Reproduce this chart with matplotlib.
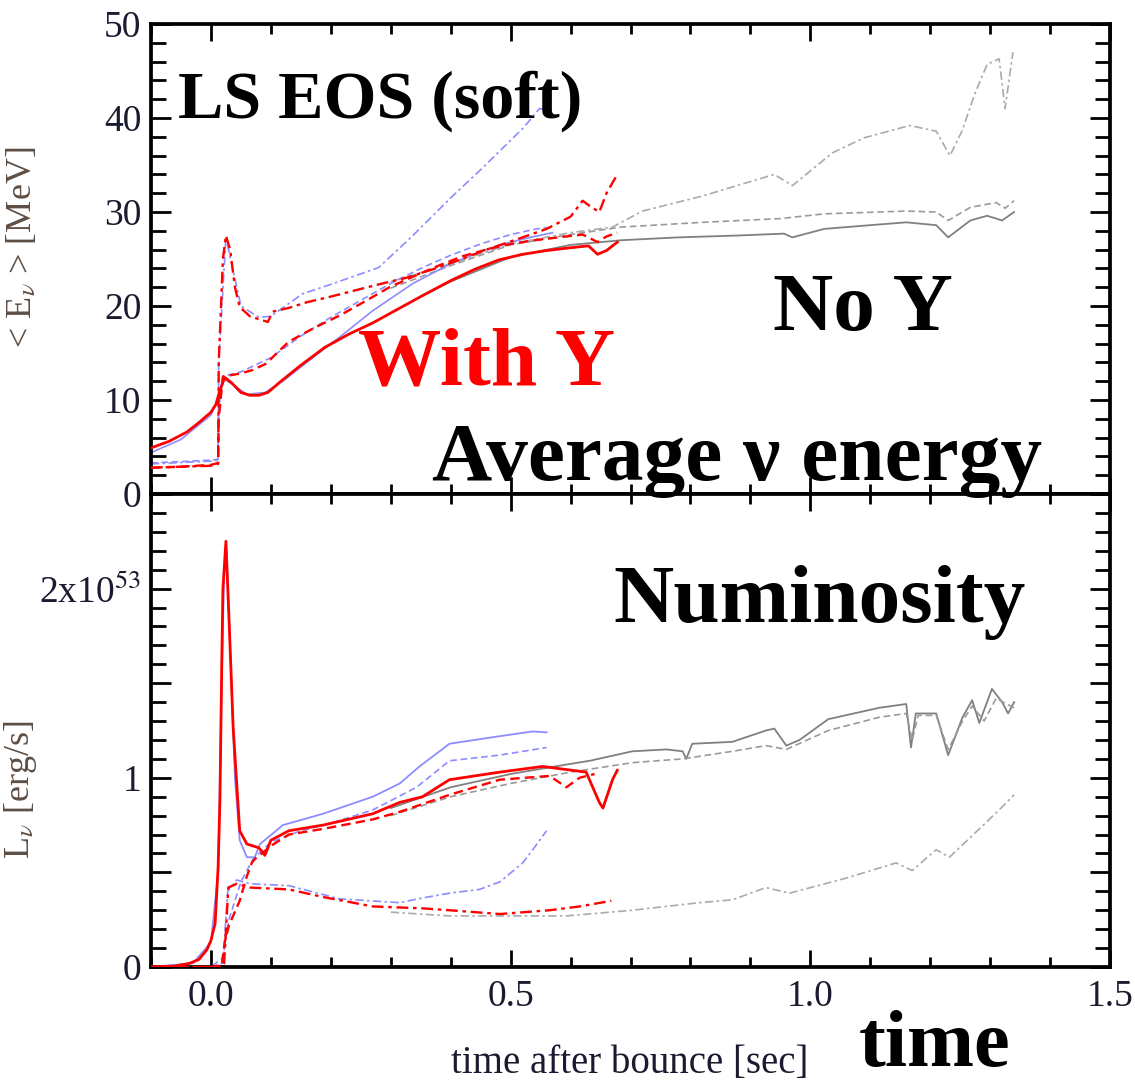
import matplotlib
matplotlib.use("Agg")
import matplotlib.pyplot as plt
from matplotlib.ticker import MultipleLocator, FixedLocator, FixedFormatter

plt.rcParams['font.family'] = ['Liberation Serif', 'DejaVu Serif']
plt.rcParams['mathtext.fontset'] = 'stix'

# ---------------- data: average energy [MeV] ----------------
# With Y (red)
t_e_red_solid = [-0.1, -0.07, -0.04, -0.02, 0.0, 0.008, 0.015, 0.023, 0.035, 0.05, 0.065, 0.08, 0.095,
                 0.115, 0.15, 0.19, 0.23, 0.27, 0.31, 0.35, 0.4, 0.44, 0.48, 0.52, 0.56, 0.6, 0.63,
                 0.645, 0.66, 0.678]
e_red_solid = [4.9, 5.6, 6.6, 7.6, 8.7, 9.5, 11.0, 12.4, 11.8, 10.8, 10.5, 10.5, 10.8,
               11.9, 13.7, 15.6, 17.0, 18.2, 19.6, 21.0, 22.7, 23.9, 24.9, 25.5, 25.9, 26.2, 26.4,
               25.5, 25.9, 26.8]

t_e_red_dash = [-0.1, -0.05, 0.0, 0.012, 0.013, 0.02, 0.048, 0.07, 0.093, 0.11, 0.13, 0.17, 0.215,
                0.26, 0.298, 0.34, 0.38, 0.42, 0.465, 0.5, 0.54, 0.58, 0.62, 0.645, 0.66, 0.678]
e_red_dash = [2.8, 2.9, 3.1, 3.3, 8.0, 12.5, 12.8, 13.2, 13.9, 15.0, 16.2, 17.6, 19.0,
              20.6, 22.0, 23.2, 24.3, 25.3, 26.1, 26.6, 27.0, 27.3, 27.6, 26.8, 27.4, 27.8]

t_e_red_dd = [-0.1, -0.05, 0.0, 0.012, 0.013, 0.02, 0.025, 0.032, 0.04, 0.048, 0.065, 0.08, 0.095,
              0.103, 0.13, 0.16, 0.2, 0.243, 0.28, 0.326, 0.37, 0.41, 0.46, 0.52, 0.56, 0.6, 0.62,
              0.635, 0.648, 0.66, 0.678]
e_red_dd = [2.8, 2.9, 3.0, 3.2, 14.0, 25.0, 27.5, 26.0, 22.0, 19.9, 18.9, 18.6, 18.3,
            19.4, 19.8, 20.4, 21.0, 21.7, 22.3, 23.0, 23.9, 24.8, 26.0, 27.3, 28.2, 29.5, 31.2,
            30.5, 30.0, 32.0, 34.0]

# second model (blue)
t_e_blue_solid = [-0.1, -0.05, 0.0, 0.01, 0.02, 0.04, 0.06, 0.09, 0.12, 0.16, 0.215, 0.27, 0.337,
                  0.4, 0.45, 0.5, 0.54, 0.57]
e_blue_solid = [4.4, 5.8, 8.4, 9.8, 12.3, 11.5, 10.6, 10.8, 12.0, 14.0, 16.7, 19.5, 22.4,
                24.5, 25.8, 26.8, 27.4, 27.8]

t_e_blue_dash = [-0.1, 0.0, 0.012, 0.013, 0.02, 0.05, 0.1, 0.15, 0.2, 0.25, 0.3, 0.35, 0.4, 0.45,
                 0.5, 0.543, 0.57]
e_blue_dash = [3.3, 3.6, 3.7, 9.0, 12.5, 13.0, 14.5, 16.8, 18.8, 20.6, 22.4, 24.0, 25.4, 26.6,
               27.6, 28.2, 28.4]

t_e_blue_dd = [-0.1, 0.0, 0.012, 0.013, 0.025, 0.05, 0.08, 0.1, 0.153, 0.2, 0.28, 0.337, 0.4, 0.45,
               0.482, 0.522, 0.548, 0.565]
e_blue_dd = [3.2, 3.5, 3.6, 14.0, 27.3, 20.0, 18.8, 18.9, 21.3, 22.3, 24.1, 27.5, 31.5, 34.5,
             36.5, 39.0, 41.0, 40.8]

# No Y (gray)
t_e_gray_solid = [0.35, 0.4, 0.5, 0.6, 0.685, 0.78, 0.88, 0.956, 0.97, 1.023, 1.1, 1.16, 1.21, 1.23,
                  1.267, 1.295, 1.32, 1.34]
e_gray_solid = [21.0, 22.6, 25.2, 26.5, 27.0, 27.3, 27.5, 27.7, 27.3, 28.2, 28.6, 28.9, 28.6, 27.3,
                29.1, 29.6, 29.1, 30.0]

t_e_gray_dash = [0.3, 0.4, 0.5, 0.6, 0.685, 0.82, 0.95, 1.023, 1.16, 1.21, 1.23, 1.267, 1.31, 1.325, 1.34]
e_gray_dash = [21.9, 24.3, 26.5, 27.6, 28.4, 28.9, 29.3, 29.8, 30.1, 30.0, 29.1, 30.5, 31.0, 30.4, 31.2]

t_e_gray_dd = [0.3, 0.4, 0.5, 0.6, 0.67, 0.72, 0.82, 0.94, 0.97, 1.037, 1.09, 1.166, 1.21, 1.233,
               1.253, 1.274, 1.295, 1.315, 1.325, 1.338]
e_gray_dd = [22.6, 24.5, 26.6, 27.8, 28.4, 30.1, 31.7, 34.0, 32.8, 36.3, 37.9, 39.2, 38.6, 36.0,
             38.6, 42.5, 45.7, 46.3, 41.0, 47.0]

# ---------------- data: luminosity [1e53 erg/s] ----------------
t_l_red_solid = [-0.1, -0.06, -0.035, -0.02, -0.007, 0.0, 0.007, 0.012, 0.015, 0.018, 0.02, 0.025,
                 0.031, 0.037, 0.043, 0.048, 0.06, 0.08, 0.09, 0.1, 0.13, 0.187, 0.27, 0.315, 0.353,
                 0.398, 0.482, 0.553, 0.626, 0.648, 0.654, 0.67, 0.678]
l_red_solid = [0.0, 0.005, 0.02, 0.04, 0.09, 0.14, 0.23, 0.53, 0.88, 1.59, 2.0, 2.25,
               1.77, 1.27, 0.97, 0.72, 0.65, 0.63, 0.59, 0.67, 0.72, 0.75, 0.81, 0.87, 0.9,
               0.99, 1.03, 1.06, 1.03, 0.87, 0.84, 0.99, 1.04]

t_l_red_dash = [-0.1, 0.0, 0.018, 0.023, 0.03, 0.037, 0.048, 0.06, 0.068, 0.073, 0.085, 0.1, 0.13,
                0.187, 0.27, 0.315, 0.398, 0.482, 0.565, 0.593, 0.615, 0.64]
l_red_dash = [0.0, 0.0, 0.01, 0.13, 0.22, 0.27, 0.35, 0.48, 0.55, 0.57, 0.6, 0.64, 0.7,
              0.73, 0.78, 0.82, 0.91, 0.99, 1.01, 0.95, 1.0, 1.02]

t_l_red_dd = [-0.1, 0.0, 0.018, 0.022, 0.029, 0.043, 0.065, 0.13, 0.187, 0.27, 0.353, 0.398, 0.482,
              0.565, 0.615, 0.668]
l_red_dd = [0.0, 0.0, 0.0, 0.02, 0.42, 0.44, 0.42, 0.41, 0.37, 0.32, 0.31, 0.3, 0.28,
            0.3, 0.32, 0.35]

t_l_blue_solid = [-0.1, -0.03, 0.0, 0.012, 0.018, 0.022, 0.026, 0.032, 0.04, 0.048, 0.06, 0.073,
                  0.082, 0.12, 0.187, 0.27, 0.315, 0.348, 0.398, 0.482, 0.537, 0.56]
l_blue_solid = [0.0, 0.02, 0.13, 0.5, 1.5, 2.1, 2.2, 1.7, 1.0, 0.67, 0.58, 0.58,
                0.65, 0.75, 0.81, 0.9, 0.97, 1.06, 1.18, 1.22, 1.245, 1.24]

t_l_blue_dash = [-0.1, 0.0, 0.02, 0.03, 0.05, 0.07, 0.1, 0.15, 0.2, 0.27, 0.343, 0.398, 0.482, 0.56]
l_blue_dash = [0.0, 0.0, 0.05, 0.25, 0.45, 0.57, 0.66, 0.72, 0.76, 0.83, 0.95, 1.09, 1.12, 1.16]

t_l_blue_dd = [-0.1, 0.0, 0.02, 0.028, 0.043, 0.065, 0.13, 0.215, 0.315, 0.353, 0.398, 0.448,
               0.482, 0.52, 0.537, 0.56]
l_blue_dd = [0.0, 0.0, 0.02, 0.4, 0.46, 0.44, 0.43, 0.36, 0.34, 0.365, 0.39, 0.41,
             0.45, 0.55, 0.62, 0.72]

t_l_gray_solid = [0.3, 0.4, 0.5, 0.593, 0.632, 0.703, 0.76, 0.787, 0.793, 0.803, 0.87, 0.926, 0.94,
                  0.96, 0.982, 1.03, 1.115, 1.16, 1.168, 1.176, 1.21, 1.23, 1.254, 1.27, 1.282,
                  1.303, 1.32, 1.33, 1.34]
l_gray_solid = [0.84, 0.95, 1.02, 1.07, 1.09, 1.14, 1.15, 1.14, 1.1, 1.18, 1.19, 1.25, 1.26,
                1.17, 1.2, 1.31, 1.37, 1.39, 1.16, 1.34, 1.34, 1.12, 1.32, 1.41, 1.29,
                1.47, 1.4, 1.34, 1.4]

t_l_gray_dash = [0.3, 0.4, 0.5, 0.6, 0.703, 0.787, 0.87, 0.926, 0.96, 1.03, 1.115, 1.16, 1.17, 1.18,
                 1.21, 1.23, 1.254, 1.27, 1.29, 1.31, 1.34]
l_gray_dash = [0.8, 0.9, 0.97, 1.03, 1.08, 1.1, 1.14, 1.17, 1.15, 1.25, 1.32, 1.34, 1.2, 1.33,
               1.33, 1.15, 1.3, 1.38, 1.3, 1.42, 1.37]

t_l_gray_dd = [0.3, 0.398, 0.5, 0.593, 0.703, 0.815, 0.87, 0.926, 0.965, 1.06, 1.143, 1.17, 1.21,
               1.232, 1.282, 1.315, 1.34]
l_gray_dd = [0.29, 0.27, 0.27, 0.27, 0.3, 0.34, 0.355, 0.42, 0.39, 0.47, 0.55, 0.51, 0.62,
             0.58, 0.73, 0.83, 0.91]

y2_ticks = [0, 0.5, 1, 1.5, 2, 2.5]
y2_labels = ['0', '', '1', '', r'2x10$^{53}$', '']
x_ticks = [0.0, 0.5, 1.0, 1.5]
x_labels = ['0.0', '0.5', '1.0', '1.5']

# ---------------- figure ----------------
W, H = 1135, 1085
fig = plt.figure(figsize=(W / 100, H / 100), dpi=100)


def fx(px):
    return px / W


def fy(py):
    return 1 - py / H


ax1 = fig.add_axes([fx(151), fy(494), (1110 - 151) / W, (494 - 24) / H])
ax2 = fig.add_axes([fx(151), fy(967), (1110 - 151) / W, (967 - 494) / H])

RED = '#ff0000'
BLUE = '#8c8cff'
GRAY1 = '#808080'
GRAY2 = '#9a9a9a'
GRAY3 = '#aaaaaa'
DASH = (0, (4, 2.2))
DASHDOT = (0, (5, 2, 1.5, 2))

series_top = [
    (t_e_gray_solid, e_gray_solid, GRAY1, '-', 1.3, 1),
    (t_e_gray_dash, e_gray_dash, GRAY2, DASH, 1.2, 1),
    (t_e_gray_dd, e_gray_dd, GRAY3, DASHDOT, 1.2, 1),
    (t_e_blue_solid, e_blue_solid, BLUE, '-', 1.2, 2),
    (t_e_blue_dash, e_blue_dash, BLUE, DASH, 1.2, 2),
    (t_e_blue_dd, e_blue_dd, BLUE, DASHDOT, 1.2, 2),
    (t_e_red_dash, e_red_dash, RED, DASH, 1.7, 3),
    (t_e_red_dd, e_red_dd, RED, DASHDOT, 1.7, 3),
    (t_e_red_solid, e_red_solid, RED, '-', 2.0, 4),
]
series_bot = [
    (t_l_gray_solid, l_gray_solid, GRAY1, '-', 1.3, 1),
    (t_l_gray_dash, l_gray_dash, GRAY2, DASH, 1.2, 1),
    (t_l_gray_dd, l_gray_dd, GRAY3, DASHDOT, 1.2, 1),
    (t_l_blue_solid, l_blue_solid, BLUE, '-', 1.3, 2),
    (t_l_blue_dash, l_blue_dash, BLUE, DASH, 1.2, 2),
    (t_l_blue_dd, l_blue_dd, BLUE, DASHDOT, 1.2, 2),
    (t_l_red_dash, l_red_dash, RED, DASH, 1.7, 3),
    (t_l_red_dd, l_red_dd, RED, DASHDOT, 1.7, 3),
    (t_l_red_solid, l_red_solid, RED, '-', 2.0, 4),
]

for ax, series in ((ax1, series_top), (ax2, series_bot)):
    for t, v, c, ls, lw, z in series:
        ax.plot(t, v, color=c, linestyle=ls, linewidth=lw, zorder=z, clip_on=True)

TICKCOL = '#1a1a30'
for ax in (ax1, ax2):
    ax.set_xlim(-0.1, 1.5)
    ax.xaxis.set_major_locator(FixedLocator(x_ticks))
    ax.xaxis.set_minor_locator(MultipleLocator(0.1))
    ax.tick_params(which='both', direction='in', top=True, right=True, width=2.0,
                   colors='black', labelcolor=TICKCOL, labelsize=27)
    ax.tick_params(axis='x', which='major', length=12.5, pad=9)
    ax.tick_params(axis='x', which='minor', length=7)
    ax.tick_params(axis='y', pad=7)
    for s in ax.spines.values():
        s.set_linewidth(2.7)

ax1.set_ylim(0, 50)
ax1.yaxis.set_major_locator(MultipleLocator(10))
ax1.yaxis.set_minor_locator(MultipleLocator(2))
ax1.tick_params(axis='y', which='major', length=14.5)
ax1.tick_params(axis='y', which='minor', length=10.5)
ax1.tick_params(labelbottom=False)

ax2.set_ylim(0, 2.5)
ax2.yaxis.set_major_locator(FixedLocator(y2_ticks))
ax2.yaxis.set_major_formatter(FixedFormatter(y2_labels))
ax2.yaxis.set_minor_locator(MultipleLocator(0.1))
ax2.tick_params(axis='y', which='major', length=14.5)
ax2.tick_params(axis='y', which='minor', length=10.5)
ax2.set_xticklabels(x_labels)

YLCOL = '#5e4e44'
ax1.set_ylabel(r'< E$_\nu$ > [MeV]', fontsize=26, color=YLCOL)
ax1.yaxis.set_label_coords(-0.117, 0.525)
ax2.set_ylabel(r'L$_\nu$ [erg/s]', fontsize=26, color=YLCOL)
ax2.yaxis.set_label_coords(-0.117, 0.374)

fig.text(fx(630), fy(1073), 'time after bounce [sec]', fontsize=28, color=TICKCOL,
         ha='center', va='baseline')

# annotations
fig.text(fx(178), fy(118), 'LS EOS (soft)', fontsize=49, fontweight='bold', color='black',
         va='baseline', ha='left')
fig.text(fx(773), fy(330), 'No Y', fontsize=60, fontweight='bold', color='black',
         va='baseline', ha='left')
fig.text(fx(358), fy(385), 'With Y', fontsize=60, fontweight='bold', color='#ff0000',
         va='baseline', ha='left')
fig.text(fx(432), fy(480), 'Average \u03bd energy', fontsize=60, fontweight='bold', color='black',
         va='baseline', ha='left')
fig.text(fx(613), fy(622), 'Numinosity', fontsize=60, fontweight='bold', color='black',
         va='baseline', ha='left')
fig.text(fx(859), fy(1066), 'time', fontsize=58, fontweight='bold', color='black',
         va='baseline', ha='left')

fig.savefig('out.png', dpi=100)
